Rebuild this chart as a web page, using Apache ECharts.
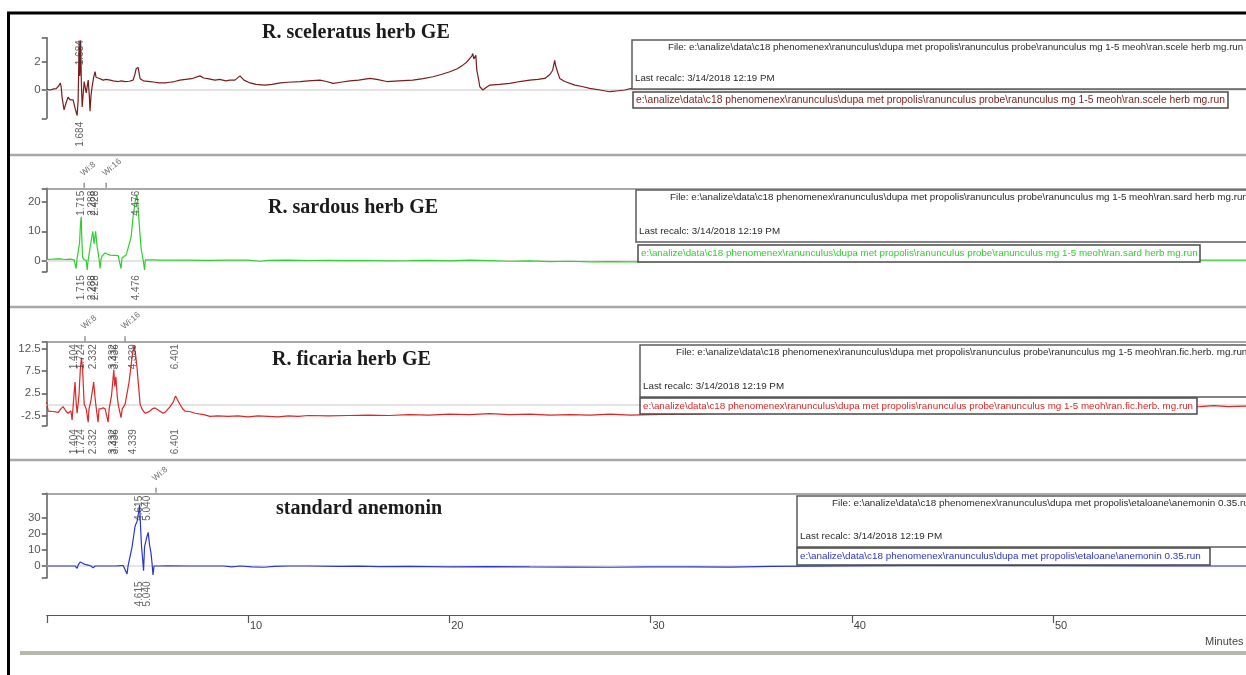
<!DOCTYPE html>
<html>
<head>
<meta charset="utf-8">
<script src="https://cdn.jsdelivr.net/npm/echarts@6/dist/echarts.min.js"></script>
<style>
  html, body { margin: 0; padding: 0; background: #fff; }
  #chart { width: 1246px; height: 675px; }
</style>
</head>
<body>
<div id="chart"></div>
<script>
// ---- Chromatogram data: [retention time (min), detector response] ----
const sceleratusTrace = [
  [0,0.05],[0.17,0],[0.35,0.08],[0.47,0.1],[0.6,0.3],[0.67,0.5],[0.72,0.2],[0.76,-0.5],[0.86,-1.4],[0.92,-1.1],
  [0.96,-0.9],[1.06,-0.5],[1.16,-0.7],[1.24,-0.6],[1.31,-0.7],[1.41,-1.3],[1.51,-1.8],[1.56,-0.7],[1.61,3.5],[1.64,1.0],
  [1.66,1.6],[1.684,3.5],[1.72,0.5],[1.76,-1.2],[1.81,-0.3],[1.86,0.6],[1.96,-0.2],[2.06,0.7],[2.12,-0.5],[2.15,-1.5],
  [2.2,-0.4],[2.25,0.2],[2.33,0.9],[2.40,1.3],[2.45,0.9],[2.50,0.8],[2.65,0.8],[2.8,0.7],[2.95,0.75],[3.15,0.7],
  [3.3,0.65],[3.55,0.6],[3.7,0.65],[3.9,0.6],[4.1,0.62],[4.29,0.7],[4.38,1.1],[4.44,1.5],[4.54,1.6],[4.6,1.1],
  [4.64,0.8],[4.8,0.65],[5.13,0.6],[5.4,0.55],[5.6,0.5],[5.88,0.5],[6.1,0.55],[6.35,0.6],[6.62,0.7],[6.9,0.75],
  [7.2,0.8],[7.61,1.0],[7.8,0.85],[8.0,0.8],[8.36,0.7],[8.6,0.75],[8.9,0.65],[9.1,0.7],[9.35,0.7],[9.6,1.0],
  [9.8,0.7],[10.1,0.5],[10.4,0.4],[10.84,0.35],[11.2,0.4],[11.6,0.5],[12.0,0.55],[12.58,0.6],[13.0,0.65],[13.57,0.7],
  [13.9,0.6],[14.22,0.47],[14.6,0.55],[15.06,0.65],[15.5,0.7],[16.06,0.82],[16.4,0.75],[16.9,0.6],[17.5,0.65],[18.19,0.7],
  [18.7,0.8],[19.19,0.94],[19.6,1.1],[20.03,1.29],[20.4,1.5],[20.67,1.76],[20.85,1.95],[21.02,2.23],[21.12,2.4],[21.17,2.58],
  [21.22,2.2],[21.27,2.1],[21.32,2.45],[21.37,1.4],[21.45,0.8],[21.52,0.23],[21.67,0],[21.85,0.2],[22.02,0.35],[22.5,0.4],
  [23.01,0.47],[23.5,0.6],[24.0,0.7],[24.4,0.75],[24.75,0.82],[25.0,1.1],[25.14,1.4],[25.24,2.1],[25.29,1.7],[25.34,1.64],
  [25.4,1.2],[25.49,0.82],[25.74,0.6],[26.24,0.35],[26.6,0.25],[26.98,0.12],[27.5,0],[27.98,-0.12],[28.4,-0.05],[28.72,0],
  [29.07,0.12],[32,0.05],[36,0.1],[42,0.05],[50,0.1],[59.59,0.1]
];
const sardousTrace = [
  [0,0.35],[0.3,0.4],[0.67,0.5],[0.9,0.3],[1.16,0.4],[1.36,0.2],[1.46,-2.8],[1.5,0.2],[1.56,0.45],[1.63,6],
  [1.68,13],[1.715,15],[1.74,8],[1.78,1],[1.86,0.2],[1.96,0.1],[2.01,-3.3],[2.06,0.2],[2.11,0.5],[2.2,6.4],
  [2.288,10],[2.35,5.7],[2.428,10],[2.5,4.9],[2.6,0.5],[2.65,-2.8],[2.7,0.5],[2.75,1.5],[2.9,2.6],[3.0,2.2],
  [3.15,1.8],[3.35,1.7],[3.55,1.6],[3.64,1.2],[3.69,-2.8],[3.74,0.8],[3.79,1.3],[3.95,1.9],[4.04,2.5],[4.19,8],
  [4.29,15],[4.4,20.5],[4.476,22.4],[4.51,21],[4.59,13],[4.69,4],[4.79,0.2],[4.86,-3.3],[4.9,0.2],[4.94,0.4],
  [5.3,0.2],[5.63,0.1],[6.2,0.05],[7.0,0.1],[8.0,0],[9.0,0.1],[10.0,0.05],[10.6,-0.3],[11.0,0],[12.0,0.1],
  [13.0,-0.05],[14.0,0],[15.0,-0.1],[16.0,-0.05],[17.0,-0.15],[18.0,-0.1],[19.0,0],[20.0,-0.2],[21.0,0.1],[22.0,-0.1],
  [23.0,-0.3],[24.0,-0.2],[25.0,-0.4],[26.0,-0.3],[27.0,-0.5],[28.0,-0.4],[29.0,-0.5],[30.0,-0.4],[35,-0.2],[40,0],
  [50,0.1],[57,0.1],[59.59,0.05]
];
const ficariaTrace = [
  [0,0.5],[0.07,-1.5],[0.3,-1.6],[0.57,-1.8],[0.7,-1.0],[0.81,-0.5],[0.95,-1.5],[1.06,-2.0],[1.2,-1.5],[1.26,-3.5],
  [1.3,-1],[1.404,5],[1.46,0.5],[1.51,-2],[1.6,2],[1.67,8],[1.724,10.5],[1.78,8],[1.86,0],[1.96,-1],
  [2.06,-4],[2.1,-1],[2.2,1],[2.332,5],[2.4,1.5],[2.45,-0.5],[2.55,-4],[2.6,-1],[2.7,-1],[2.8,-0.8],
  [2.9,-1],[3.05,-4],[3.1,-1],[3.22,2],[3.332,7.8],[3.38,4],[3.436,6.2],[3.5,2],[3.55,0],[3.69,-3],
  [3.75,-1],[3.89,0],[4.09,5],[4.25,11],[4.339,13.3],[4.42,11],[4.49,8],[4.64,0],[4.75,-1.2],[4.89,-2],
  [5.0,-1.8],[5.13,-1.5],[5.25,-1],[5.38,-0.8],[5.55,-1.3],[5.78,-2],[5.9,-1.7],[6.13,-0.5],[6.28,0.5],[6.401,1.9],
  [6.5,1],[6.62,0],[6.75,-1],[6.87,-1.5],[7.1,-1.6],[7.37,-2],[7.8,-2.3],[8.11,-2.7],[8.5,-2.6],[9,-2.7],
  [9.5,-2.6],[10,-2.8],[10.5,-2.6],[11,-2.7],[11.5,-2.8],[12,-2.6],[12.5,-2.7],[13,-2.5],[14,-2.6],[15,-2.5],
  [16,-2.4],[17,-2.5],[18,-2.3],[19,-2.4],[20,-2.2],[21,-2.3],[22,-2.1],[23,-2.3],[24,-2.2],[25,-2.4],
  [26,-2.3],[27,-2.4],[28,-2.2],[29,-2.4],[30,-2.3],[35,-1.9],[40,-1.6],[45,-1.2],[50,-0.9],[55,-0.6],
  [57.3,-0.5],[58,-0.3],[58.7,-0.5],[59.59,-0.4]
];
const anemoninTrace = [
  [0,0],[0.8,0],[1.2,0],[1.41,0],[1.51,-1.5],[1.56,0.5],[1.66,2.5],[1.75,1.8],[1.81,1.5],[1.95,0.8],
  [2.06,0.5],[2.2,0],[2.25,-0.5],[2.30,-1.2],[2.4,0],[2.6,0],[2.9,0],[3.15,0],[3.5,0.1],[3.8,0.3],
  [3.89,0.5],[3.99,-5],[4.04,0],[4.09,1],[4.24,12],[4.39,25],[4.49,28],[4.56,33],[4.615,38],[4.66,25],
  [4.71,12],[4.76,5],[4.81,-3],[4.86,12],[4.95,17],[5.04,21],[5.11,13],[5.18,8],[5.23,2],[5.28,-5.6],
  [5.33,0],[5.38,0.5],[5.6,0],[6,0.1],[7,0],[8,0],[8.8,0],[9.2,-0.5],[9.6,0],[10.2,-0.6],
  [10.8,-0.8],[11.3,-0.3],[12,0],[13,0],[14.5,-0.2],[15.5,-0.1],[16.5,-0.4],[18,-0.3],[20,-0.5],[22,-0.4],
  [24,-0.6],[26,-0.7],[28,-0.8],[30,-0.6],[32,-0.5],[34,-0.7],[36,-0.3],[40,0.1],[45,0.3],[50,0.2],
  [55,0.1],[57.8,0],[59.59,0]
];

// Integrated peak retention times (min)
const sceleratusPeaks = [1.684];
const sardousPeaks = [1.715, 2.288, 2.428, 4.476];
const ficariaPeaks = [1.404, 1.724, 2.332, 3.332, 3.436, 4.339, 6.401];
const anemoninPeaks = [4.615, 5.040];

// Timed integration events
const sardousEvents = [[1.86, 'Wi:8'], [2.95, 'Wi:16']];
const ficariaEvents = [[1.90, 'Wi:8'], [3.89, 'Wi:16']];
const anemoninEvents = [[5.43, 'Wi:8']];

// Y tick labels per trace
const sceleratusTicks = [0, 2];
const sardousTicks = [0, 10, 20];
const ficariaTicks = [-2.5, 2.5, 7.5, 12.5];
const anemoninTicks = [0, 10, 20, 30];

// Shared time axis
const timeMax = 59.59;
const timeStep = 10;

const runDir = 'e:\\analize\\data\\c18 phenomenex\\ranunculus\\dupa met propolis\\';
const recalc = 'Last recalc: 3/14/2018 12:19 PM';

const SANS = '"Liberation Sans Narrow", "Liberation Sans", Arial, sans-serif';
const GRID_LEFT = 46.75;

const panels = [
  { title: 'R. sceleratus herb GE', trace: sceleratusTrace, peaks: sceleratusPeaks, events: [],
    ticks: sceleratusTicks, min: -2, max: 3.7, color: '#7a1c1c', top: 37.7, height: 80.6, topLine: false,
    titleX: 262, titleY: 33, infoSize: 10.3, fileSize: 9.7,
    path: runDir + 'ranunculus probe\\ranunculus mg 1-5 meoh\\ran.scele herb mg.run',
    box: { x: 632, y: 40, h: 49, ix: 633, iy: 92, iw: 595, ih: 16, fx: 668 } },
  { title: 'R. sardous herb GE', trace: sardousTrace, peaks: sardousPeaks, events: sardousEvents,
    ticks: sardousTicks, min: -3.9, max: 24.8, color: '#2fcf2f', top: 188.3, height: 83.4, topLine: true,
    titleX: 268, titleY: 208, infoSize: 9.8, fileSize: 9.8,
    path: runDir + 'ranunculus probe\\ranunculus mg 1-5 meoh\\ran.sard herb mg.run',
    box: { x: 636, y: 190, h: 52, ix: 638, iy: 245, iw: 562, ih: 17, fx: 670 } },
  { title: 'R. ficaria herb GE', trace: ficariaTrace, peaks: ficariaPeaks, events: ficariaEvents,
    ticks: ficariaTicks, min: -4.8, max: 14.1, color: '#dd2626', top: 341.7, height: 84, topLine: true,
    titleX: 272, titleY: 360, infoSize: 9.8, fileSize: 9.8,
    path: runDir + 'ranunculus probe\\ranunculus mg 1-5 meoh\\ran.fic.herb. mg.run',
    box: { x: 640, y: 345, h: 52, ix: 640, iy: 398, iw: 557, ih: 16, fx: 676 } },
  { title: 'standard anemonin', trace: anemoninTrace, peaks: anemoninPeaks, events: anemoninEvents,
    ticks: anemoninTicks, min: -7.5, max: 45.4, color: '#2a36c8', top: 493.3, height: 84.7, topLine: true,
    titleX: 276, titleY: 509, infoSize: 9.9, fileSize: 9.9,
    path: runDir + 'etaloane\\anemonin 0.35.run',
    box: { x: 797, y: 496, h: 51, ix: 797, iy: 548, iw: 413, ih: 17, fx: 832 } }
];

const grids = [], xAxes = [], yAxes = [], series = [], graphics = [];
const hidden = 'rgba(0,0,0,0)';

panels.forEach((p, i) => {
  grids.push({ left: GRID_LEFT, right: 0, top: p.top, height: p.height, outerBoundsMode: 'none' });
  // faint lower frame of the trace area
  const bottomAxis = xAxes.length;
  xAxes.push({ gridIndex: i, type: 'value', min: 0, max: timeMax, position: 'bottom',
    axisLine: { show: true, lineStyle: { color: '#e4e4e4', width: 2 } },
    axisTick: { show: false }, axisLabel: { show: false }, splitLine: { show: false } });
  if (p.topLine) {
    xAxes.push({ gridIndex: i, type: 'value', min: 0, max: timeMax, position: 'top',
      axisLine: { show: true, lineStyle: { color: '#8c8c8c', width: 1.5 } },
      axisTick: { show: false }, axisLabel: { show: false }, splitLine: { show: false } });
  }
  yAxes.push({ gridIndex: i, type: 'value', min: p.min, max: p.max, offset: 2,
    axisLine: { show: true, lineStyle: { color: '#5a5a5a', width: 1.5 } },
    axisTick: { show: true, length: 5, customValues: [p.min].concat(p.ticks, [p.max]),
      lineStyle: { color: '#5a5a5a', width: 1.5 } },
    axisLabel: { show: true, customValues: p.ticks, color: '#555', fontSize: 11.5, margin: 4,
      fontFamily: SANS },
    splitLine: { show: false } });

  series.push({ type: 'line', xAxisIndex: bottomAxis, yAxisIndex: i, data: p.trace,
    showSymbol: false, symbol: 'none', lineStyle: { color: p.color, width: 1.2 }, z: 3 });

  const fmt = (prm) => prm.value[0].toFixed(3);
  // retention-time labels hanging from the top of the trace area, reading upward
  series.push({ type: 'scatter', xAxisIndex: bottomAxis, yAxisIndex: i, clip: false,
    data: p.peaks.map(t => [t, p.max]), symbolSize: 1, itemStyle: { color: hidden }, z: 4,
    label: { show: true, formatter: fmt, rotate: 90, align: 'right', verticalAlign: 'middle',
      position: [0, 3], fontSize: 10, color: '#3a3a3a', fontFamily: SANS } });
  // retention-time labels under the trace area
  series.push({ type: 'scatter', xAxisIndex: bottomAxis, yAxisIndex: i, clip: false,
    data: p.peaks.map(t => [t, p.min]), symbolSize: 1, itemStyle: { color: hidden }, z: 4,
    label: { show: true, formatter: fmt, rotate: 90, align: 'right', verticalAlign: 'middle',
      position: [0, 4], fontSize: 10, color: '#3a3a3a', fontFamily: SANS } });
  // timed events above the frame
  if (p.events.length) {
    series.push({ type: 'scatter', xAxisIndex: bottomAxis, yAxisIndex: i, clip: false,
      data: p.events.map(e => ({ value: [e[0], p.max], name: e[1] })),
      symbol: 'rect', symbolSize: [1.2, 5], symbolOffset: [0, -3], itemStyle: { color: '#555' }, z: 4,
      label: { show: true, formatter: '{b}', rotate: 40, align: 'left', verticalAlign: 'bottom',
        position: [1, -5], fontSize: 8.5, color: '#444', fontFamily: SANS } });
  }

  // title
  graphics.push({ type: 'text', z: 60, style: { text: p.title, x: p.titleX, y: p.titleY,
    font: 'bold 20px "Liberation Serif", "Times New Roman", serif', fill: '#1b1b1b', verticalAlign: 'middle' } });
  // run information boxes
  const b = p.box;
  const infoFont = p.infoSize + 'px ' + SANS;
  const fileFont = p.fileSize + 'px ' + SANS;
  graphics.push({ type: 'rect', z: 50, shape: { x: b.x, y: b.y, width: 1260 - b.x, height: b.h },
    style: { fill: '#fff', stroke: '#5c5c5c', lineWidth: 1.5 } });
  graphics.push({ type: 'text', z: 51, style: { text: 'File: ' + p.path, x: b.fx, y: b.y + 7,
    font: fileFont, fill: '#2a2a2a', verticalAlign: 'middle' } });
  graphics.push({ type: 'text', z: 51, style: { text: recalc, x: b.x + 3, y: b.y + b.h - 11,
    font: fileFont, fill: '#2a2a2a', verticalAlign: 'middle' } });
  graphics.push({ type: 'rect', z: 50, shape: { x: b.ix, y: b.iy, width: b.iw, height: b.ih },
    style: { fill: '#fff', stroke: '#4a4a4a', lineWidth: 1.5 } });
  graphics.push({ type: 'text', z: 51, style: { text: p.path, x: b.ix + 3, y: b.iy + b.ih / 2,
    font: infoFont, fill: p.color, verticalAlign: 'middle' } });
});

// shared time axis
const timeGrid = grids.length;
grids.push({ left: GRID_LEFT, right: 0, top: 590, height: 25, outerBoundsMode: 'none' });
xAxes.push({ gridIndex: timeGrid, type: 'value', min: 0, max: timeMax, interval: timeStep, position: 'bottom',
  axisLine: { show: true, lineStyle: { color: '#555', width: 1.2 } },
  axisTick: { show: true, length: 8, lineStyle: { color: '#555', width: 1.2 } },
  axisLabel: { show: true, color: '#444', fontSize: 11, fontFamily: SANS, align: 'left', margin: 5,
    padding: [0, 0, 0, 2], showMaxLabel: false, formatter: v => (v === 0 ? '' : String(v)) },
  splitLine: { show: false } });
yAxes.push({ gridIndex: timeGrid, type: 'value', show: false });

// panel separators, frame, footer
[155, 307, 460].forEach(y => {
  graphics.push({ type: 'line', z: 40, shape: { x1: 10, y1: y, x2: 1246, y2: y },
    style: { stroke: '#a8a8a8', lineWidth: 2.5 } });
});
graphics.push({ type: 'line', z: 40, shape: { x1: 20, y1: 653, x2: 1246, y2: 653 },
  style: { stroke: '#b8b8aa', lineWidth: 4 } });
graphics.push({ type: 'line', z: 70, shape: { x1: 8.5, y1: 12, x2: 8.5, y2: 675 },
  style: { stroke: '#000', lineWidth: 3 } });
graphics.push({ type: 'line', z: 70, shape: { x1: 7, y1: 13, x2: 1246, y2: 13 },
  style: { stroke: '#000', lineWidth: 3 } });
graphics.push({ type: 'text', z: 60, style: { text: 'Minutes', x: 1205, y: 642,
  font: '11px ' + SANS, fill: '#444', verticalAlign: 'middle' } });

const chart = echarts.init(document.getElementById('chart'), null, { renderer: 'canvas' });
chart.setOption({
  animation: false,
  backgroundColor: '#fff',
  grid: grids,
  xAxis: xAxes,
  yAxis: yAxes,
  series: series,
  graphic: { elements: graphics }
});
</script>
</body>
</html>
